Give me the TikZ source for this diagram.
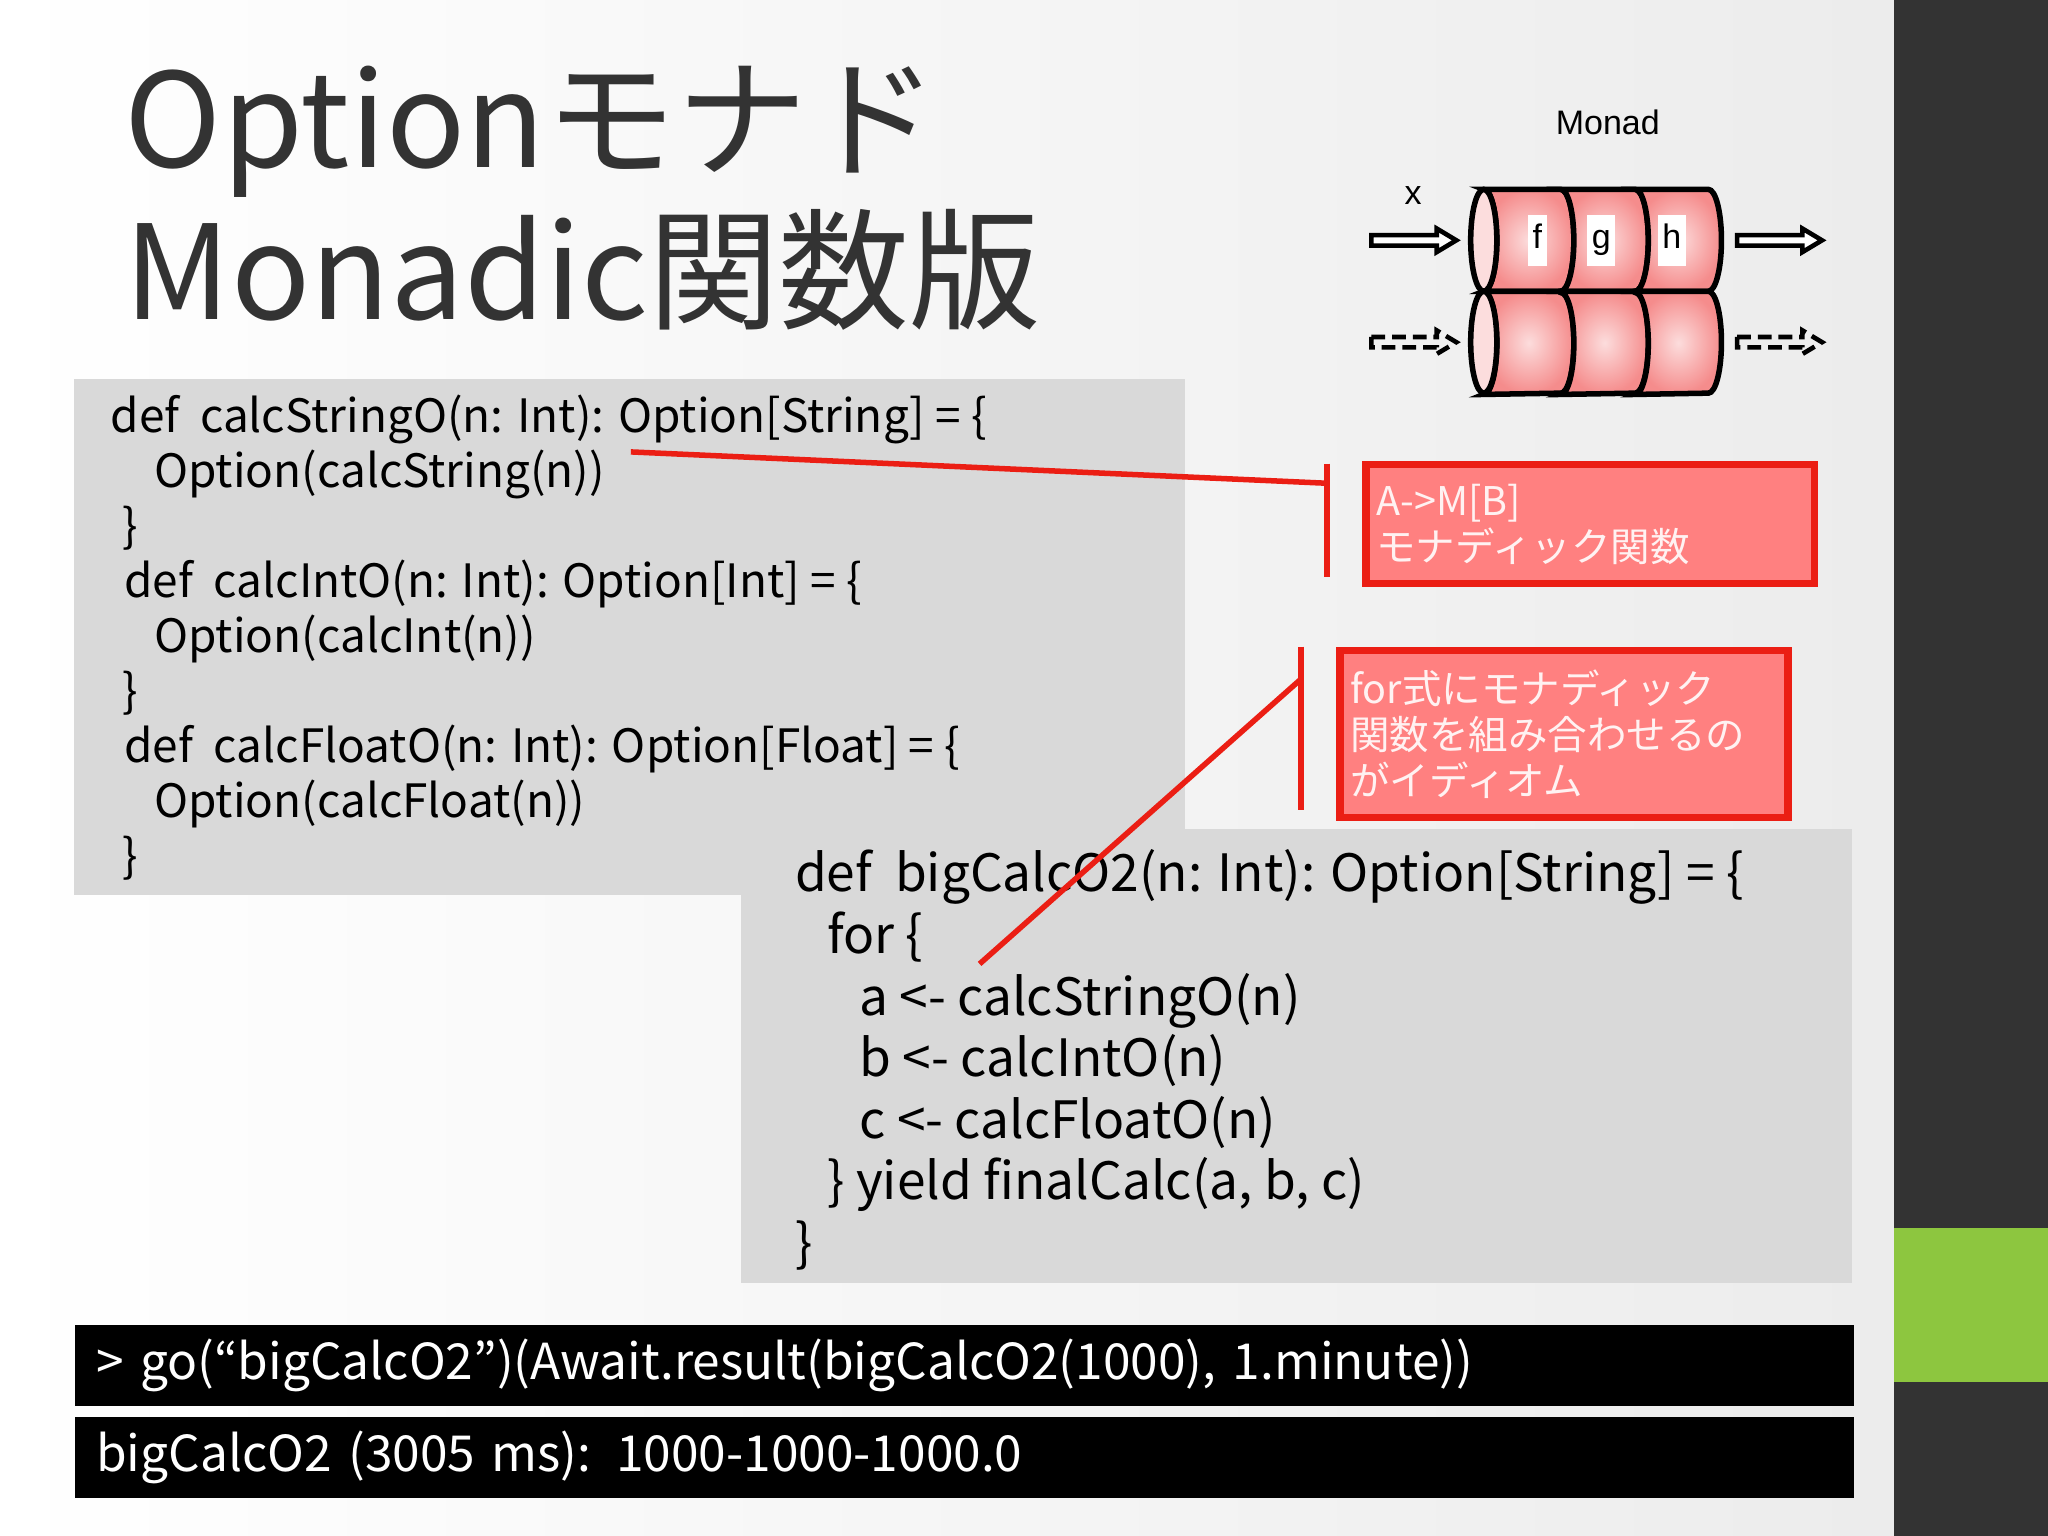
\documentclass[tikz,border=0pt]{standalone}
\usepackage{fontspec}
\setmainfont{Noto Sans CJK JP}
\newfontfamily\diagfont{Liberation Sans}
\usetikzlibrary{positioning}
\definecolor{titlegray}{RGB}{51,51,51}
\definecolor{codegray}{RGB}{217,217,217}
\definecolor{notered}{RGB}{255,128,128}
\definecolor{noteborder}{RGB}{235,30,20}
\definecolor{barlime}{RGB}{141,198,63}
\definecolor{bardark}{RGB}{51,51,51}
\definecolor{cylpink}{RGB}{245,140,140}

\begin{document}
\begin{tikzpicture}[x=0.01cm, y=-0.01cm]
    \tikzstyle{codebox} = [inner sep=0, anchor=north west, align=left, text=black]
    \tikzstyle{note} = [rectangle, draw=noteborder, line width=1.6pt, fill=notered, text=white!95!red, align=left, anchor=north west, inner sep=0, font=\fontsize{8.6pt}{10pt}\selectfont]
    \tikzstyle{bar} = [rectangle, fill=black, text=white, anchor=north west, inner sep=0]
    \tikzstyle{link} = [draw=noteborder, line width=1.2pt]
    \tikzstyle{cyl} = [draw=black, line width=1.2pt, inner color=white!70!cylpink, outer color=cylpink]

    % Background
    \useasboundingbox (0,0) rectangle (1568,1176);
    \shade[left color=white, right color=gray!15] (0,0) rectangle (1450,1176);
    \fill[bardark] (1450,0) rectangle (1568,1176);
    \fill[barlime] (1450,940) rectangle (1568,1058);

    % Title
    \node[anchor=base west, inner sep=0, text=titlegray, font=\fontsize{28.5pt}{34pt}\selectfont] (title1) at (95,128) {Optionモナド};
    \node[anchor=base west, inner sep=0, text=titlegray, font=\fontsize{28.5pt}{34pt}\selectfont] (title2) at (95,245) {Monadic関数版};

    % Code blocks
    \fill[codegray] (57,290) rectangle (907,685);
    \fill[codegray] (567,635) rectangle (1418,982);
    \node[codebox, font=\fontsize{10pt}{11.95pt}\selectfont] (code1) at (84,302) {%
        def\ \ calcStringO(n: Int): Option[String] = \{\\
        \hspace*{9.5pt}Option(calcString(n))\\
        \hspace*{2.6pt}\}\\
        \hspace*{3pt}def\ \ calcIntO(n: Int): Option[Int] = \{\\
        \hspace*{9.5pt}Option(calcInt(n))\\
        \hspace*{2.6pt}\}\\
        \hspace*{3pt}def\ \ calcFloatO(n: Int): Option[Float] = \{\\
        \hspace*{9.5pt}Option(calcFloat(n))\\
        \hspace*{2.6pt}\}};
    \node[codebox, font=\fontsize{11.2pt}{13.4pt}\selectfont] (code2) at (608,650) {%
        def\ \ bigCalcO2(n: Int): Option[String] = \{\\
        \hspace*{7pt}for \{\\
        \hspace*{14pt}a <- calcStringO(n)\\
        \hspace*{14pt}b <- calcIntO(n)\\
        \hspace*{14pt}c <- calcFloatO(n)\\
        \hspace*{7pt}\} yield finalCalc(a, b, c)\\
        \}};

    % Notes
    \node[note, minimum width=3.43cm, minimum height=0.91cm, text width=3.27cm, inner xsep=0.08cm] (noteA) at (1043,353) {A->M[B]\\モナディック関数};
    \node[note, minimum width=3.43cm, minimum height=1.28cm, text width=3.27cm, inner xsep=0.08cm] (noteB) at (1023,495) {for式にモナディック\\関数を組み合わせるの\\がイディオム};
    \coordinate (brA1) at (1016,355);
    \coordinate (brA2) at (1016,442);
    \coordinate (linkA) at (1016,370);
    \coordinate (codeA) at (483,346);
    \coordinate (brB1) at (996,495);
    \coordinate (brB2) at (996,620);
    \coordinate (linkB) at (996,520);
    \coordinate (codeB) at (750,738);
    \draw[link] (brA1) -- (brA2);
    \draw[link] (codeA) -- (linkA);
    \draw[link] (brB1) -- (brB2);
    \draw[link] (linkB) -- (codeB);

    % Monad picture
    \node[font=\diagfont\fontsize{7.4pt}{9pt}\selectfont] (monad) at (1231,94) {Monad};
    \foreach \x/\nx in {1136/1195,1195/1252,1252/1308} {
        \foreach \y/\ny in {145/223,223/302} {
            \path[cyl] (\x,\y) -- (\nx,\y) arc[start angle=-90, end angle=90, x radius=10, y radius=39]
                -- (\x,\ny) arc[start angle=90, end angle=-90, x radius=10, y radius=39] -- cycle;
        }
    }
    \foreach \y in {184,262}
        \draw[line width=1.2pt, fill=white!70!cylpink] (1136,\y) ellipse[x radius=10, y radius=39];
    \foreach \t/\x in {f/1177,g/1226,h/1280}
        \node[fill=white, inner sep=1pt, font=\diagfont\fontsize{7.4pt}{9pt}\selectfont] (lbl\t) at (\x,184) {\strut\t};
    \node[font=\diagfont\fontsize{7.4pt}{9pt}\selectfont] (xlbl) at (1082,150) {x};
    \foreach \x in {1050,1330} {
        \draw[line width=1pt, fill=white] (\x,180) -- (\x+50,180) -- (\x+50,175) -- (\x+65,184) -- (\x+50,193) -- (\x+50,188) -- (\x,188) -- cycle;
        \draw[line width=1pt, dash pattern=on 3pt off 1.5pt] (\x,258) -- (\x+50,258) -- (\x+50,253) -- (\x+65,262) -- (\x+50,271) -- (\x+50,266) -- (\x,266) -- cycle;
    }

    % Console output
    \node[bar, minimum width=13.61cm, minimum height=0.62cm, text width=13.29cm, inner xsep=0.16cm, font=\fontsize{10.8pt}{13pt}\selectfont] (cmd) at (57,1014) {> go(“bigCalcO2”)(Await.result(bigCalcO2(1000), 1.minute))};
    \node[bar, minimum width=13.61cm, minimum height=0.62cm, text width=13.29cm, inner xsep=0.16cm, font=\fontsize{10.8pt}{13pt}\selectfont] (result) at (57,1084) {bigCalcO2 (3005 ms): 1000-1000-1000.0};
\end{tikzpicture}
\end{document}
